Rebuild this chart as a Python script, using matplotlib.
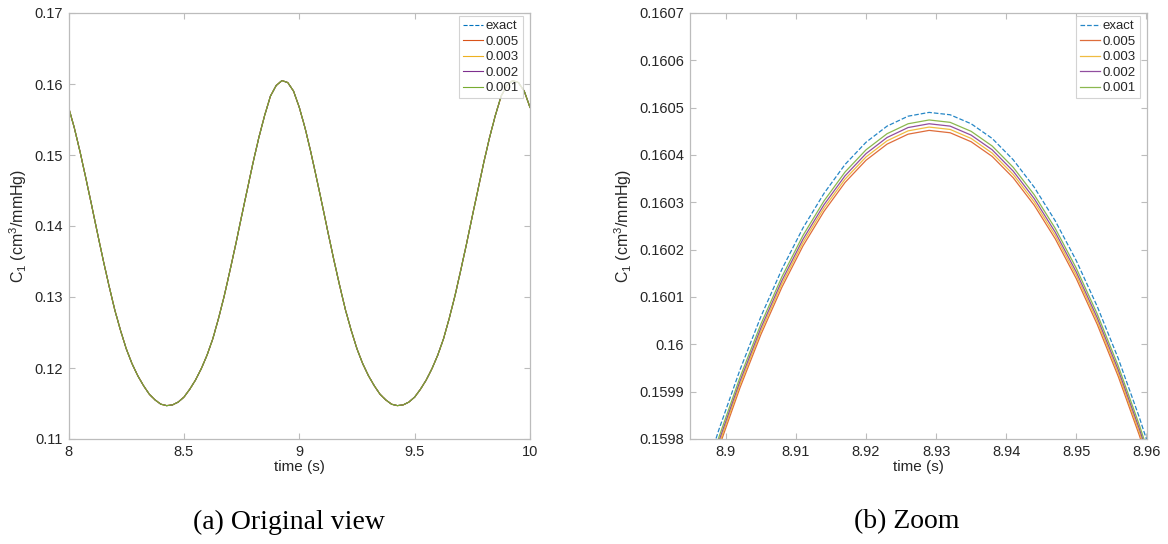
import matplotlib
matplotlib.use("Agg")
import matplotlib.pyplot as plt

plt.rcParams["font.family"] = ["Liberation Sans", "DejaVu Sans"]
plt.rcParams["mathtext.fontset"] = "custom"
plt.rcParams["mathtext.rm"] = "Liberation Sans"
plt.rcParams["mathtext.it"] = "Liberation Sans:italic"

# ---- data ----
# (a) full view, 8 s .. 10 s (all step sizes overlap at this scale)
t_full = [8.000, 8.025, 8.050, 8.075, 8.100, 8.125, 8.150, 8.175, 8.200, 8.225,
          8.250, 8.275, 8.300, 8.325, 8.350, 8.375, 8.400, 8.425, 8.450, 8.475,
          8.500, 8.525, 8.550, 8.575, 8.600, 8.625, 8.650, 8.675, 8.700, 8.725,
          8.750, 8.775, 8.800, 8.825, 8.850, 8.875, 8.900, 8.925, 8.950, 8.975,
          9.000, 9.025, 9.050, 9.075, 9.100, 9.125, 9.150, 9.175, 9.200, 9.225,
          9.250, 9.275, 9.300, 9.325, 9.350, 9.375, 9.400, 9.425, 9.450, 9.475,
          9.500, 9.525, 9.550, 9.575, 9.600, 9.625, 9.650, 9.675, 9.700, 9.725,
          9.750, 9.775, 9.800, 9.825, 9.850, 9.875, 9.900, 9.925, 9.950, 9.975,
          10.000]
c1_full = [0.1567, 0.1538, 0.1504, 0.1467, 0.1429, 0.1390, 0.1352, 0.1316, 0.1282, 0.1253,
           0.1227, 0.1206, 0.1189, 0.1175, 0.1163, 0.1155, 0.1149, 0.1147, 0.1148, 0.1152,
           0.1159, 0.1170, 0.1183, 0.1199, 0.1218, 0.1241, 0.1270, 0.1302, 0.1338, 0.1375,
           0.1414, 0.1452, 0.1490, 0.1525, 0.1556, 0.1583, 0.1598, 0.16048, 0.1602, 0.1590,
           0.1567, 0.1538, 0.1504, 0.1467, 0.1429, 0.1390, 0.1352, 0.1316, 0.1282, 0.1253,
           0.1227, 0.1206, 0.1189, 0.1175, 0.1163, 0.1155, 0.1149, 0.1147, 0.1148, 0.1152,
           0.1159, 0.1170, 0.1183, 0.1199, 0.1218, 0.1241, 0.1270, 0.1302, 0.1338, 0.1375,
           0.1414, 0.1452, 0.1490, 0.1525, 0.1556, 0.1583, 0.1598, 0.16048, 0.1602, 0.1590,
           0.1567]

# (b) zoom around the peak
t_zoom = [8.896, 8.899, 8.902, 8.905, 8.908, 8.911, 8.914, 8.917, 8.920, 8.923,
          8.926, 8.929, 8.932, 8.935, 8.938, 8.941, 8.944, 8.947, 8.950, 8.953,
          8.956, 8.959, 8.962]
c1_exact = [0.159681, 0.159820, 0.159946, 0.160059, 0.160159, 0.160246, 0.160319, 0.160380,
            0.160427, 0.160461, 0.160482, 0.160490, 0.160485, 0.160466, 0.160435, 0.160390,
            0.160332, 0.160261, 0.160177, 0.160080, 0.159970, 0.159846, 0.159709]
c1_dt005 = [0.159643, 0.159782, 0.159908, 0.160021, 0.160121, 0.160208, 0.160281, 0.160342,
            0.160389, 0.160423, 0.160444, 0.160452, 0.160447, 0.160428, 0.160397, 0.160352,
            0.160294, 0.160223, 0.160139, 0.160042, 0.159932, 0.159808, 0.159671]
c1_dt003 = [0.159650, 0.159789, 0.159915, 0.160028, 0.160128, 0.160215, 0.160288, 0.160349,
            0.160396, 0.160430, 0.160451, 0.160459, 0.160454, 0.160435, 0.160404, 0.160359,
            0.160301, 0.160230, 0.160146, 0.160049, 0.159939, 0.159815, 0.159678]
c1_dt002 = [0.159657, 0.159796, 0.159922, 0.160035, 0.160135, 0.160222, 0.160295, 0.160356,
            0.160403, 0.160437, 0.160458, 0.160466, 0.160461, 0.160442, 0.160411, 0.160366,
            0.160308, 0.160237, 0.160153, 0.160056, 0.159946, 0.159822, 0.159685]
c1_dt001 = [0.159665, 0.159804, 0.159930, 0.160043, 0.160143, 0.160230, 0.160303, 0.160364,
            0.160411, 0.160445, 0.160466, 0.160474, 0.160469, 0.160450, 0.160419, 0.160374,
            0.160316, 0.160245, 0.160161, 0.160064, 0.159954, 0.159830, 0.159693]

labels = ["exact", "0.005", "0.003", "0.002", "0.001"]
colors = ["#0072BD", "#D95319", "#EDB120", "#7E2F8E", "#77AC30"]

xticks_a = [8, 8.5, 9, 9.5, 10]
xticklabels_a = ["8", "8.5", "9", "9.5", "10"]
yticks_a = [0.11, 0.12, 0.13, 0.14, 0.15, 0.16, 0.17]
yticklabels_a = ["0.11", "0.12", "0.13", "0.14", "0.15", "0.16", "0.17"]
xticks_b = [8.90, 8.91, 8.92, 8.93, 8.94, 8.95, 8.96]
xticklabels_b = ["8.9", "8.91", "8.92", "8.93", "8.94", "8.95", "8.96"]
yticks_b = [0.1598, 0.1599, 0.1600, 0.1601, 0.1602, 0.1603, 0.1604, 0.1605, 0.1606, 0.1607]
yticklabels_b = ["0.1598", "0.1599", "0.16", "0.1601", "0.1602", "0.1603",
                 "0.1604", "0.1605", "0.1606", "0.1607"]

W, H = 1168, 544
fig = plt.figure(figsize=(W / 100, H / 100), dpi=100)
ax_a = fig.add_axes([68.6 / W, 1 - 439 / H, (530 - 68.6) / W, 426 / H])
ax_b = fig.add_axes([689.5 / W, 1 - 439 / H, (1147 - 689.5) / W, 426 / H])

axis_gray = "#bcbcbc"
text_gray = "#262626"


def style(ax):
    for s in ax.spines.values():
        s.set_color(axis_gray)
        s.set_linewidth(0.9)
    ax.tick_params(direction="in", length=4.5, width=0.8, color=axis_gray,
                   labelcolor=text_gray, labelsize=10.5, top=True, right=True, pad=4)
    ax.set_xlabel("time (s)", fontsize=11, color=text_gray, labelpad=1)
    ax.set_ylabel("C$_1$ (cm$^3$/mmHg)", fontsize=11.5, color=text_gray, labelpad=4)


def add_legend(ax):
    leg = ax.legend(loc="upper right", bbox_to_anchor=(1 - 7 / 458, 1 - 3 / 426),
                    borderaxespad=0, fontsize=9.5, frameon=True, fancybox=False,
                    handlelength=1.5, handletextpad=0.2, borderpad=0.3,
                    labelspacing=0.25)
    leg.get_frame().set_edgecolor("#c8c8c8")
    leg.get_frame().set_linewidth(0.8)
    for txt in leg.get_texts():
        txt.set_color(text_gray)


# (a) original view
ax_a.plot(t_full, c1_full, "--", color=colors[0], lw=0.8, label=labels[0])
for lab, col in zip(labels[1:], colors[1:]):
    ax_a.plot(t_full, c1_full, "-", color=col, lw=0.8, label=lab)
ax_a.set_xlim(8, 10)
ax_a.set_ylim(0.11, 0.17)
ax_a.set_xticks(xticks_a, xticklabels_a)
ax_a.set_yticks(yticks_a, yticklabels_a)
style(ax_a)
add_legend(ax_a)

# (b) zoom
zoom_series = [c1_exact, c1_dt005, c1_dt003, c1_dt002, c1_dt001]
for i, (vals, lab, col) in enumerate(zip(zoom_series, labels, colors)):
    ax_b.plot(t_zoom, vals, "--" if i == 0 else "-", color=col, lw=0.9,
              alpha=0.85, label=lab)
ax_b.set_xlim(8.8948, 8.9601)
ax_b.set_ylim(0.1598, 0.1607)
ax_b.set_xticks(xticks_b, xticklabels_b)
ax_b.set_yticks(yticks_b, yticklabels_b)
style(ax_b)
add_legend(ax_b)

fig.text(289 / W, 1 - 522 / H, "(a) Original view", ha="center", va="center",
         fontsize=20, family="Liberation Serif", color="black")
fig.text(907 / W, 1 - 522 / H, "(b) Zoom", ha="center", va="center",
         fontsize=20, family="Liberation Serif", color="black")

fig.savefig("out.png", dpi=100, facecolor="white")
